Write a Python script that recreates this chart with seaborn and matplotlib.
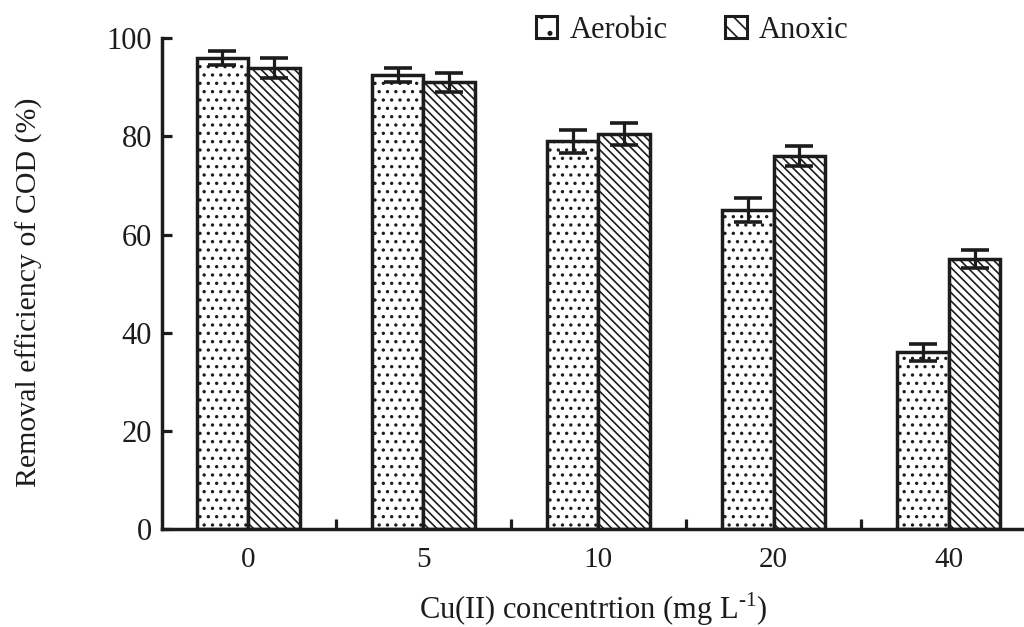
import matplotlib
matplotlib.use("Agg")
import matplotlib.pyplot as plt
from matplotlib.patches import Patch
from matplotlib.ticker import FixedLocator
import seaborn as sns
import pandas as pd

# Cu(II) dose groups and COD removal (%) with standard deviations
concentrations = ["0", "5", "10", "20", "40"]
conditions = ["Aerobic", "Anoxic"]
aerobic = [96.0, 92.5, 79.0, 65.0, 36.0]
anoxic = [94.0, 91.0, 80.5, 76.0, 55.0]
aerobic_err = [1.5, 1.5, 2.4, 2.4, 1.8]
anoxic_err = [2.0, 2.0, 2.2, 2.0, 1.9]
y_ticks = [0, 20, 40, 60, 80, 100]

INK = "#1c1c1c"
HATCHES = {"Aerobic": "..", "Anoxic": "\\\\\\\\"}
KEY_HATCHES = {"Aerobic": ".", "Anoxic": "\\\\"}

sns.set_style("ticks")
plt.rcParams["font.family"] = ["Liberation Serif", "DejaVu Serif"]
plt.rcParams["mathtext.fontset"] = "custom"
plt.rcParams["mathtext.rm"] = "Liberation Serif"
plt.rcParams["hatch.linewidth"] = 1.2
plt.rcParams["text.color"] = INK
plt.rcParams["axes.labelcolor"] = INK
plt.rcParams["xtick.color"] = INK
plt.rcParams["ytick.color"] = INK

df = pd.DataFrame({
    "conc": concentrations * 2,
    "cond": ["Aerobic"] * len(aerobic) + ["Anoxic"] * len(anoxic),
    "value": aerobic + anoxic,
})

fig = plt.figure(figsize=(10.24, 6.27), dpi=100)
ax = fig.add_axes([0.158, 0.156, 0.842, 0.783])

sns.barplot(data=df, x="conc", y="value", hue="cond", order=concentrations,
            hue_order=conditions, palette=["white", "white"], saturation=1,
            width=0.59, gap=0, errorbar=None, edgecolor=INK, linewidth=2.5,
            legend=False, ax=ax)

for cond, container, errs in zip(conditions, ax.containers, [aerobic_err, anoxic_err]):
    xs, ys = [], []
    for bar in container:
        bar.set_hatch(HATCHES[cond])
        xs.append(bar.get_x() + bar.get_width() / 2)
        ys.append(bar.get_height())
    ax.errorbar(xs, ys, yerr=errs, fmt="none", ecolor=INK, elinewidth=2.3,
                capsize=10, capthick=2.6, zorder=5)

ax.set_xlim(-0.494, 4.43)
ax.set_ylim(0, 100)
ax.set_yticks(y_ticks)
ax.set_yticklabels([str(v) for v in y_ticks], fontsize=22)
ax.set_xticklabels(concentrations, fontsize=21)
ax.xaxis.set_minor_locator(FixedLocator([0.5, 1.5, 2.5, 3.5]))
ax.tick_params(axis="x", which="major", length=0, pad=13)
ax.tick_params(axis="x", which="minor", direction="in", length=7, width=2.3)
ax.tick_params(axis="y", direction="in", length=7, width=2.3, pad=7)

for side in ("top", "right"):
    ax.spines[side].set_visible(False)
for side in ("left", "bottom"):
    ax.spines[side].set_linewidth(2.5)
    ax.spines[side].set_color(INK)

ax.set_ylabel("Removal efficiency of COD (%)", fontsize=21.5)
ax.yaxis.set_label_coords(-0.138, 0.483)
ax.set_xlabel("Cu(II) concentrtion (mg L$^{\\mathregular{\u20101}}$)",
              fontsize=22, labelpad=12)

handles = [Patch(facecolor="white", edgecolor=INK, linewidth=2.2, hatch=KEY_HATCHES[c])
           for c in conditions]
fig.legend(handles, conditions, loc="center", bbox_to_anchor=(0.676, 0.952),
           ncol=2, frameon=False, fontsize=22, handlelength=0.7, handleheight=0.7,
           handletextpad=0.4, columnspacing=1.9, borderpad=0)

fig.savefig("out.png", dpi=100)
